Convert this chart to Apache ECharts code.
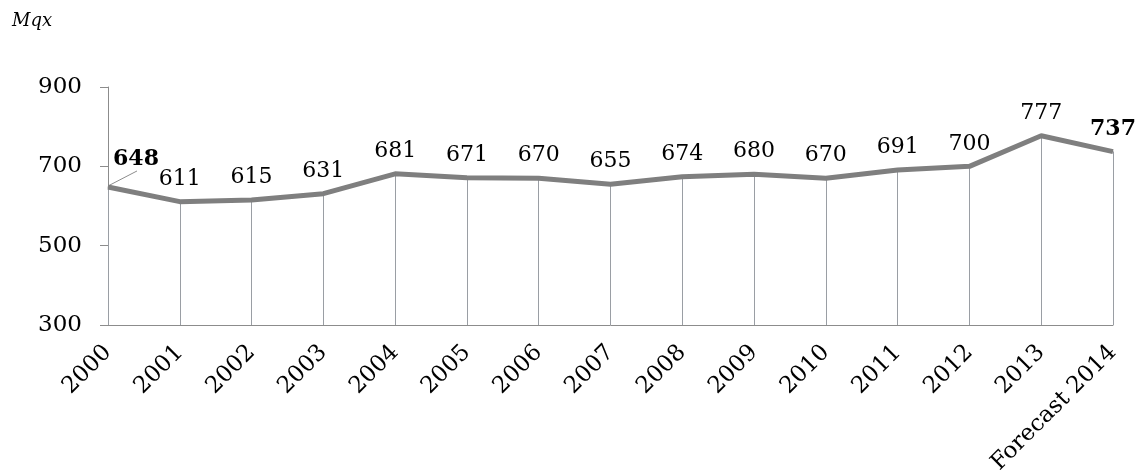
<!DOCTYPE html>
<html>
<head>
<meta charset="utf-8">
<script src="https://cdn.jsdelivr.net/npm/echarts@6/dist/echarts.min.js"></script>
<style>
  html, body { margin: 0; padding: 0; background: #fff; }
  #chart { width: 1138px; height: 472px; }
</style>
</head>
<body>
<div id="chart"></div>
<script>
  // categories and values
  var years = ['2000', '2001', '2002', '2003', '2004', '2005', '2006', '2007',
    '2008', '2009', '2010', '2011', '2012', '2013', 'Forecast 2014'];
  var values = [648, 611, 615, 631, 681, 671, 670, 655, 674, 680, 670, 691, 700, 777, 737];
  var yTicks = [300, 500, 700, 900];

  var font = '"DejaVu Serif", serif';
  var last = values.length - 1;

  var lineData = values.map(function (v, i) {
    if (i === 0) {
      // first label sits up-right of its point
      return { value: v, label: { fontWeight: 'bold', offset: [28, -5] } };
    }
    if (i === last) {
      return { value: v, label: { fontWeight: 'bold' } };
    }
    return v;
  });

  // drop lines: one vertical segment from each point down to the axis floor
  var dropLines = values.map(function (v, i) {
    return [{ coord: [i, v] }, { coord: [i, yTicks[0]] }];
  });

  var myChart = echarts.init(document.getElementById('chart'));
  myChart.setOption({
    animation: false,
    title: {
      text: 'Mqx',
      left: 7,
      top: 7,
      textStyle: { fontFamily: font, fontStyle: 'italic', fontWeight: 'normal', fontSize: 18, color: '#000' }
    },
    grid: { left: 108, right: 25, top: 87, bottom: 147, outerBoundsMode: 'none', containLabel: false },
    xAxis: {
      type: 'category',
      data: years,
      boundaryGap: false,
      axisLine: { lineStyle: { color: '#8c8c8c', width: 1 } },
      axisTick: { show: false },
      axisLabel: { rotate: 45, margin: 24, fontFamily: font, fontSize: 23, color: '#000', interval: 0 }
    },
    yAxis: {
      type: 'value',
      min: yTicks[0],
      max: yTicks[yTicks.length - 1],
      interval: 200,
      axisLine: { show: true, lineStyle: { color: '#8c8c8c', width: 1 } },
      axisTick: { show: true, length: 8, lineStyle: { color: '#8c8c8c' } },
      splitLine: { show: false },
      axisLabel: { margin: 26, fontFamily: font, fontSize: 23, color: '#000' }
    },
    series: [
      {
        type: 'line',
        data: lineData,
        symbol: 'circle',
        symbolSize: 1,
        itemStyle: { color: '#7f7f7f' },
        lineStyle: { color: '#7f7f7f', width: 5 },
        label: {
          show: true,
          position: 'top',
          distance: 11,
          fontFamily: font,
          fontSize: 22,
          color: '#000'
        },
        markLine: {
          silent: true,
          symbol: 'none',
          label: { show: false },
          lineStyle: { color: '#9a9ea4', width: 1, type: 'solid' },
          z: 1,
          data: dropLines
        },
        z: 3
      }
    ]
  });

  // leader line from the first point to its label
  var p0 = myChart.convertToPixel({ seriesIndex: 0 }, [0, values[0]]);
  myChart.setOption({
    graphic: [{
      type: 'line',
      shape: { x1: p0[0] + 2, y1: p0[1] - 2, x2: p0[0] + 29, y2: p0[1] - 16 },
      style: { stroke: '#8c8c8c', lineWidth: 1 },
      z: 2
    }]
  });
</script>
</body>
</html>
